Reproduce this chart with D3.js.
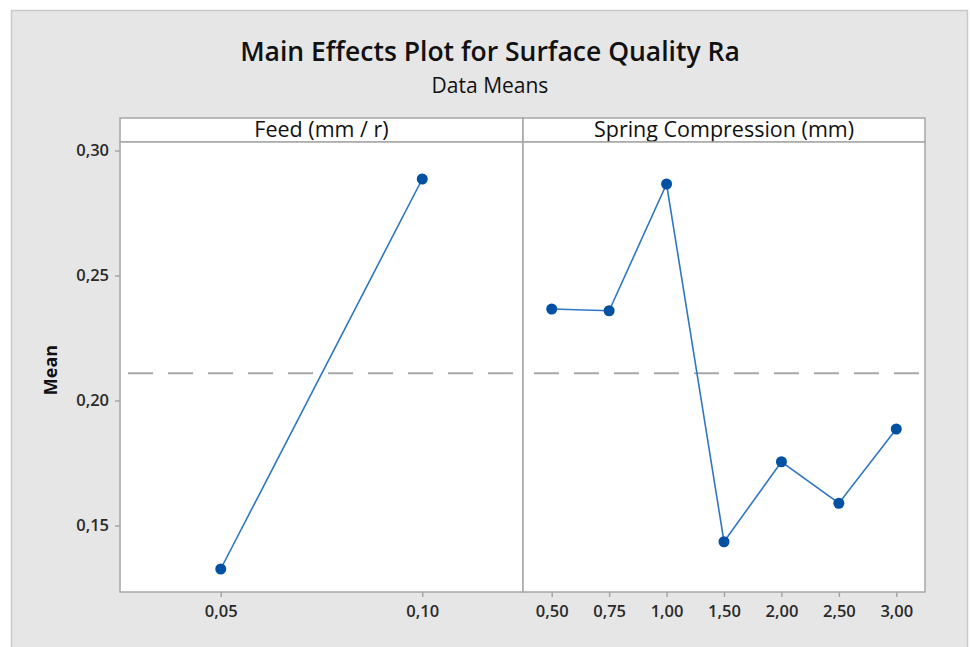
<!DOCTYPE html>
<html>
<head>
<meta charset="utf-8">
<script src="https://cdn.jsdelivr.net/npm/d3@7"></script>
<style>
  html, body { margin: 0; padding: 0; background: #ffffff; }
  svg { display: block; }
  text { font-family: "Open Sans", "Noto Sans", sans-serif; }
</style>
</head>
<body>
<svg id="chart" width="970" height="647"></svg>
<script>
// ---- data ----
const title = "Main Effects Plot for Surface Quality Ra";
const subtitle = "Data Means";
const yLabel = "Mean";
const feedLevels = ["0,05", "0,10"];
const feedMeans = [0.1326, 0.2886];
const springLevels = ["0,50", "0,75", "1,00", "1,50", "2,00", "2,50", "3,00"];
const springMeans = [0.2366, 0.2359, 0.2866, 0.1435, 0.1755, 0.1589, 0.1886];
const yTicks = [0.15, 0.20, 0.25, 0.30];
const overallMean = 0.2109;
const panelTitles = ["Feed (mm / r)", "Spring Compression (mm)"];

(function () {
const svg = d3.select("#chart");

// outer frame
svg.append("rect").attr("x", 11.5).attr("y", 10.5).attr("width", 956).attr("height", 650)
  .attr("fill", "#e6e6e6").attr("stroke", "#c9c9c9").attr("stroke-width", 1.5);

const plotTop = 142, plotBottom = 592;
const panels = [
  { x0: 120, x1: 523, levels: feedLevels, values: feedMeans, title: panelTitles[0] },
  { x0: 523, x1: 925, levels: springLevels, values: springMeans, title: panelTitles[1] }
];

const y = d3.scaleLinear().domain([0.1234, 0.3034]).range([plotBottom, plotTop]);

// titles
svg.append("text").attr("x", 490).attr("y", 61).attr("text-anchor", "middle")
  .attr("font-size", 26.5).attr("font-weight", 600).attr("fill", "#111").text(title);
svg.append("text").attr("x", 490).attr("y", 93).attr("text-anchor", "middle")
  .attr("font-size", 21).attr("fill", "#111").text(subtitle);

// y axis label
svg.append("text").attr("transform", "translate(57,370) rotate(-90)")
  .attr("text-anchor", "middle").attr("font-size", 18).attr("font-weight", 700)
  .attr("fill", "#111").text(yLabel);

panels.forEach((p, i) => {
  const g = svg.append("g");
  // strip
  g.append("rect").attr("x", p.x0).attr("y", 118).attr("width", p.x1 - p.x0).attr("height", plotTop - 118)
    .attr("fill", "#fff").attr("stroke", "#a6a6a6").attr("stroke-width", 1.5);
  g.append("text").attr("x", (p.x0 + p.x1) / 2).attr("y", 137).attr("text-anchor", "middle")
    .attr("font-size", 21.5).attr("fill", "#111").text(p.title);
  // panel
  g.append("rect").attr("x", p.x0).attr("y", plotTop).attr("width", p.x1 - p.x0).attr("height", plotBottom - plotTop)
    .attr("fill", "#fff").attr("stroke", "#a6a6a6").attr("stroke-width", 1.5);

  const x = d3.scalePoint().domain(p.levels).range([p.x0, p.x1]).padding(0.5);

  // x axis
  const xa = g.append("g").attr("transform", `translate(0,${plotBottom})`)
    .call(d3.axisBottom(x).tickSize(5).tickPadding(8));
  xa.select(".domain").remove();
  xa.selectAll("line").attr("stroke", "#a6a6a6").attr("stroke-width", 1.5);
  xa.selectAll("text").attr("font-size", 16.5).attr("font-weight", 600).attr("fill", "#2a2a2a")
    .attr("font-family", "'Open Sans', sans-serif");

  // mean reference line
  g.append("line").attr("x1", p.x0).attr("x2", p.x1)
    .attr("y1", y(overallMean)).attr("y2", y(overallMean))
    .attr("stroke", "#a8a8a8").attr("stroke-width", 2).attr("stroke-dasharray", "25,15")
    .attr("stroke-dashoffset", i === 0 ? -8 : -8 - (p.x0 - 120));

  const pts = p.levels.map((l, k) => [x(l), y(p.values[k])]);
  g.append("path").attr("d", d3.line()(pts)).attr("fill", "none")
    .attr("stroke", "#2f76c4").attr("stroke-width", 1.6);
  g.selectAll("circle.pt").data(pts).enter().append("circle")
    .attr("cx", d => d[0]).attr("cy", d => d[1]).attr("r", 5.5).attr("fill", "#0050a4");
});

// y axis (left)
const ya = svg.append("g").attr("transform", "translate(120,0)")
  .call(d3.axisLeft(y).tickValues(yTicks).tickSize(5).tickPadding(6)
    .tickFormat(d => d3.format(".2f")(d).replace(".", ",")));
ya.select(".domain").remove();
ya.selectAll("line").attr("stroke", "#a6a6a6").attr("stroke-width", 1.5);
ya.selectAll("text").attr("font-size", 16.5).attr("font-weight", 600).attr("fill", "#2a2a2a")
  .attr("font-family", "'Open Sans', sans-serif");
})();
</script>
</body>
</html>
